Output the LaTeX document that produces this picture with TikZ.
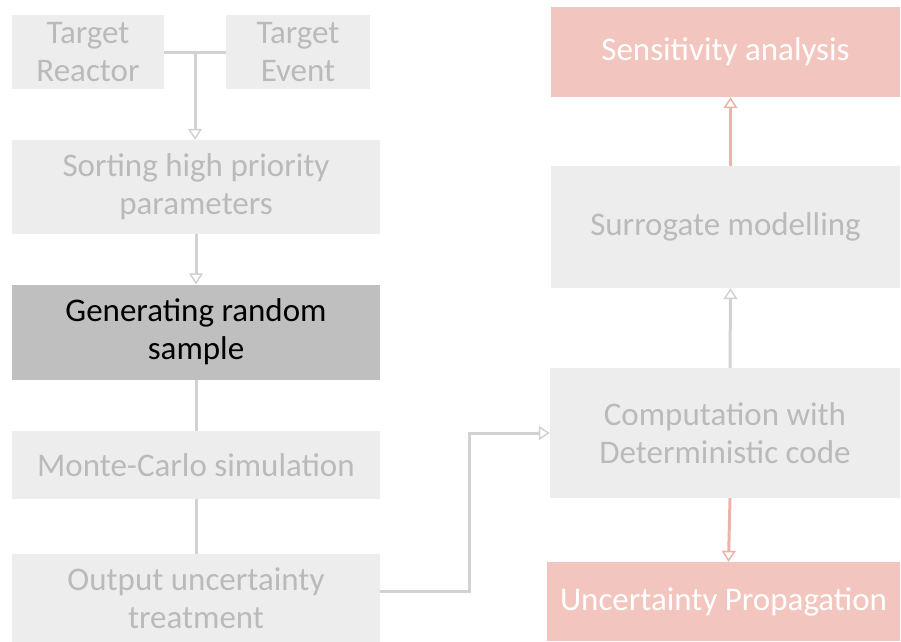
\documentclass[tikz,border=0pt]{standalone}
\usepackage{fontspec}
\setmainfont{Carlito}
\usetikzlibrary{arrows.meta,calc}

\definecolor{fadefill}{HTML}{EDEDED}
\definecolor{fadetext}{HTML}{BABABA}
\definecolor{fadeline}{HTML}{D2D2D2}
\definecolor{redfill}{HTML}{F2C6BE}
\definecolor{redline}{HTML}{EEB2A8}
\definecolor{activefill}{HTML}{BFBFBF}

\tikzset{
  basebox/.style={rectangle, inner sep=0pt, align=center,
    font=\fontsize{33}{38}\selectfont},
  fadebox/.style={basebox, fill=fadefill, text=fadetext},
  redbox/.style={basebox, fill=redfill, text=white},
  activebox/.style={basebox, fill=activefill, text=black},
  fadeconn/.style={draw=fadeline, line width=3pt},
  redconn/.style={draw=redline, line width=3pt},
  opentip/.style={-{Triangle[open, length=11pt, width=14pt, line width=1.5pt]}},
}

\begin{document}
\begin{tikzpicture}[x=1pt,y=-1pt]
  \useasboundingbox (0,0) rectangle (901,641);

  % left column
  \node[fadebox, minimum width=152, minimum height=74] (reactor) at (88,52) {Target\\Reactor};
  \node[fadebox, minimum width=144, minimum height=74] (event) at (298,52) {Target\\Event};
  \node[fadebox, minimum width=368, minimum height=94] (sorting) at (196,187) {Sorting high priority\\parameters};
  \node[activebox, minimum width=368, minimum height=95] (generating) at (196,332) {Generating random\\sample};
  \node[fadebox, minimum width=368, minimum height=68] (monte) at (196,465) {Monte-Carlo simulation};
  \node[fadebox, minimum width=368, minimum height=88] (output) at (196,598) {Output uncertainty\\treatment};

  % right column
  \node[redbox, minimum width=349, minimum height=90] (sensitivity) at (725.5,52) {Sensitivity analysis};
  \node[fadebox, minimum width=349, minimum height=122] (surrogate) at (725.5,227) {Surrogate modelling};
  \node[fadebox, minimum width=350, minimum height=130] (computation) at (725,433) {Computation with\\Deterministic code};
  \node[redbox, minimum width=353, minimum height=79] (propagation) at (723.5,601.5) {Uncertainty Propagation};

  % connectors, left column
  \coordinate (join) at ($(reactor.east)!0.5!(event.west)$);
  \draw[fadeconn] (reactor.east) -- (event.west);
  \draw[fadeconn, opentip] (join) -- (join |- sorting.north);
  \draw[fadeconn, opentip] (sorting.south) -- (generating.north);
  \draw[fadeconn] (generating.south) -- (monte.north);
  \draw[fadeconn] (monte.south) -- (output.north);
  \draw[fadeconn, opentip] ([yshift=7]output.east) -- ++(89,0) |- (computation.west);

  % connectors, right column
  \draw[fadeconn, opentip] ([xshift=5]computation.north) -- ([xshift=5]surrogate.south);
  \draw[redconn, opentip] ([xshift=5]surrogate.north) -- ([xshift=5]sensitivity.south);
  \draw[redconn, opentip] ([xshift=5]computation.south) -- ([xshift=5]propagation.north);
\end{tikzpicture}
\end{document}
